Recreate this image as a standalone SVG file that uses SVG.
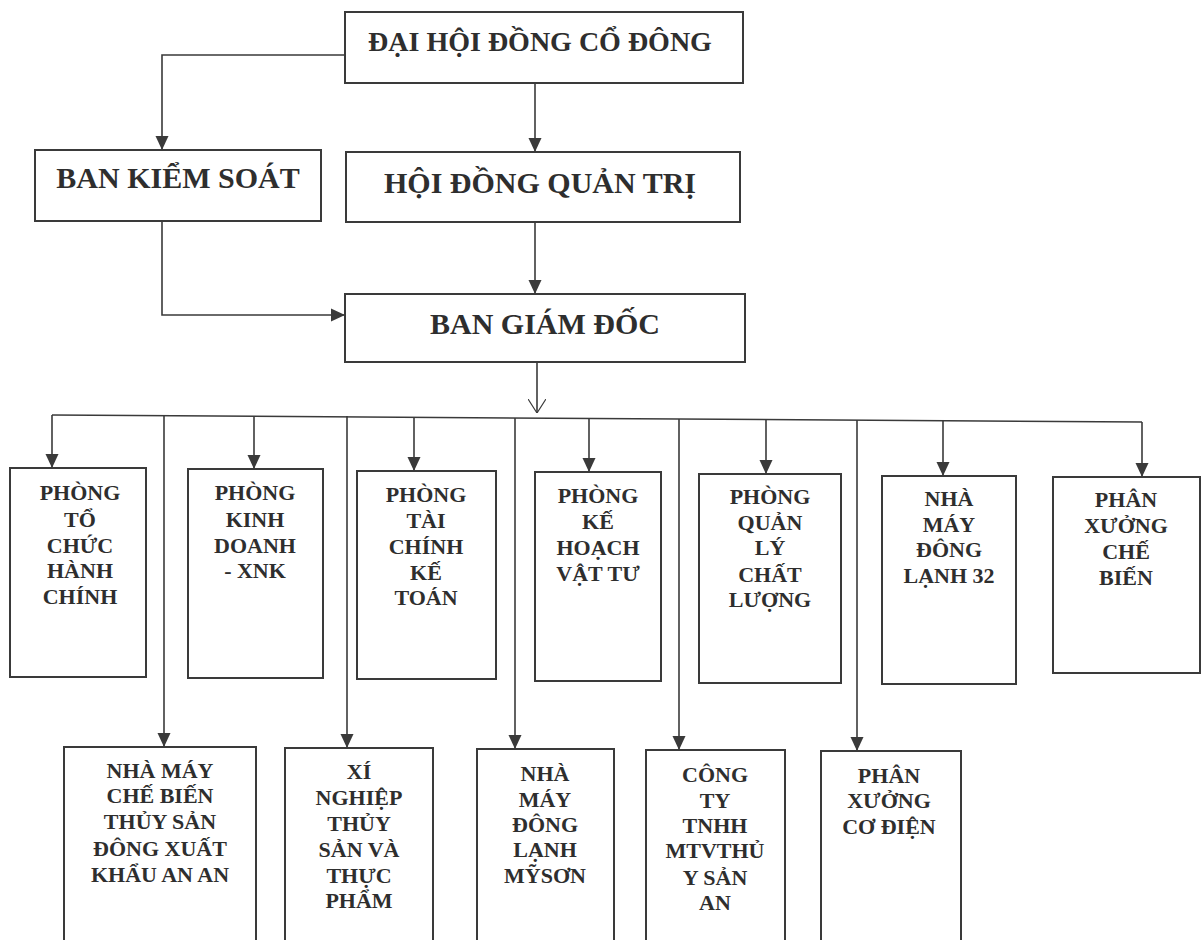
<svg xmlns="http://www.w3.org/2000/svg" width="1202" height="940" viewBox="0 0 1202 940">
<style>
.box{fill:#fff;stroke:#3a3a3a;stroke-width:2}
.ln{fill:none;stroke:#3a3a3a;stroke-width:1.6}
.t{font-family:"Liberation Serif","Times New Roman",serif;font-weight:bold;fill:#2e2e2e;text-anchor:middle}
.big{font-size:30px}
.top{font-size:28px}
.sm{font-size:22px}
</style>
<defs>
<marker id="ah" viewBox="0 0 14 14" refX="14" refY="7" markerWidth="14" markerHeight="14" markerUnits="userSpaceOnUse" orient="auto">
<path d="M0,0.5 L14,7 L0,13.5 z" fill="#3a3a3a"/>
</marker>
<marker id="av" viewBox="0 0 14 18" refX="14" refY="9" markerWidth="14" markerHeight="18" markerUnits="userSpaceOnUse" orient="auto">
<path d="M0,0 L14,9 L0,18" fill="none" stroke="#3a3a3a" stroke-width="1.2"/>
</marker>
</defs>
<rect width="1202" height="940" fill="#fff"/>
<g id="connectors">
<path class="ln" d="M345,55 H162 V150" marker-end="url(#ah)"/>
<path class="ln" d="M535,83 V152" marker-end="url(#ah)"/>
<path class="ln" d="M535,222 V294" marker-end="url(#ah)"/>
<path class="ln" d="M162,221 V315 H345" marker-end="url(#ah)"/>
<path class="ln" d="M537,362 V413" marker-end="url(#av)"/>
<path class="ln" d="M52,415 L1142,422"/>
<path class="ln" d="M52,415 V468" marker-end="url(#ah)"/>
<path class="ln" d="M254,416 V469" marker-end="url(#ah)"/>
<path class="ln" d="M414,417 V471" marker-end="url(#ah)"/>
<path class="ln" d="M589,418 V472" marker-end="url(#ah)"/>
<path class="ln" d="M766,419 V474" marker-end="url(#ah)"/>
<path class="ln" d="M943,420 V476" marker-end="url(#ah)"/>
<path class="ln" d="M1142,422 V477" marker-end="url(#ah)"/>
<path class="ln" d="M164,416 V747" marker-end="url(#ah)"/>
<path class="ln" d="M347,416 V748" marker-end="url(#ah)"/>
<path class="ln" d="M515,418 V749" marker-end="url(#ah)"/>
<path class="ln" d="M679,419 V750" marker-end="url(#ah)"/>
<path class="ln" d="M857,420 V751" marker-end="url(#ah)"/>
</g>
<g id="dhdcd">
<rect class="box" x="345" y="12" width="398" height="71"/>
<text class="t top" x="540" y="51">ĐẠI HỘI ĐỒNG CỔ ĐÔNG</text>
</g>
<g id="bks">
<rect class="box" x="35" y="150" width="286" height="71"/>
<text class="t big" x="178" y="188">BAN KIỂM SOÁT</text>
</g>
<g id="hdqt">
<rect class="box" x="346" y="152" width="394" height="70"/>
<text class="t big" x="540" y="193">HỘI ĐỒNG QUẢN TRỊ</text>
</g>
<g id="bgd">
<rect class="box" x="345" y="294" width="400" height="68"/>
<text class="t big" x="545" y="334">BAN GIÁM ĐỐC</text>
</g>
<g id="p-tchc">
<rect class="box" x="10" y="468" width="136" height="209"/>
<text class="t sm" x="80" y="500">PHÒNG<tspan x="80" y="527">TỔ</tspan><tspan x="80" y="553">CHỨC</tspan><tspan x="80" y="578">HÀNH</tspan><tspan x="80" y="604">CHÍNH</tspan></text>
</g>
<g id="p-kd">
<rect class="box" x="188" y="469" width="135" height="209"/>
<text class="t sm" x="255" y="500">PHÒNG<tspan x="255" y="527">KINH</tspan><tspan x="255" y="553">DOANH</tspan><tspan x="255" y="578">- XNK</tspan></text>
</g>
<g id="p-tckt">
<rect class="box" x="357" y="471" width="139" height="208"/>
<text class="t sm" x="426" y="502">PHÒNG<tspan x="426" y="528">TÀI</tspan><tspan x="426" y="554">CHÍNH</tspan><tspan x="426" y="580">KẾ</tspan><tspan x="426" y="605">TOÁN</tspan></text>
</g>
<g id="p-khvt">
<rect class="box" x="535" y="472" width="126" height="209"/>
<text class="t sm" x="598" y="503">PHÒNG<tspan x="598" y="529">KẾ</tspan><tspan x="598" y="555">HOẠCH</tspan><tspan x="598" y="581">VẬT TƯ</tspan></text>
</g>
<g id="p-qlcl">
<rect class="box" x="699" y="474" width="142" height="209"/>
<text class="t sm" x="770" y="504">PHÒNG<tspan x="770" y="530">QUẢN</tspan><tspan x="770" y="555">LÝ</tspan><tspan x="770" y="582">CHẤT</tspan><tspan x="770" y="607">LƯỢNG</tspan></text>
</g>
<g id="nm-dl32">
<rect class="box" x="882" y="476" width="134" height="208"/>
<text class="t sm" x="949" y="506">NHÀ<tspan x="949" y="532">MÁY</tspan><tspan x="949" y="557">ĐÔNG</tspan><tspan x="949" y="583">LẠNH 32</tspan></text>
</g>
<g id="px-cb">
<rect class="box" x="1053" y="477" width="147" height="196"/>
<text class="t sm" x="1126" y="507">PHÂN<tspan x="1126" y="533">XƯỞNG</tspan><tspan x="1126" y="559">CHẾ</tspan><tspan x="1126" y="585">BIẾN</tspan></text>
</g>
<g id="nm-cbts">
<rect class="box" x="64" y="747" width="192" height="210"/>
<text class="t sm" x="160" y="778">NHÀ MÁY<tspan x="160" y="803">CHẾ BIẾN</tspan><tspan x="160" y="829">THỦY SẢN</tspan><tspan x="160" y="856">ĐÔNG XUẤT</tspan><tspan x="160" y="882">KHẨU AN AN</tspan></text>
</g>
<g id="xn-ts">
<rect class="box" x="285" y="748" width="148" height="210"/>
<text class="t sm" x="359" y="779">XÍ<tspan x="359" y="805">NGHIỆP</tspan><tspan x="359" y="831">THỦY</tspan><tspan x="359" y="857">SẢN VÀ</tspan><tspan x="359" y="883">THỰC</tspan><tspan x="359" y="908">PHẨM</tspan></text>
</g>
<g id="nm-dlms">
<rect class="box" x="477" y="749" width="137" height="210"/>
<text class="t sm" x="545" y="781">NHÀ<tspan x="545" y="807">MÁY</tspan><tspan x="545" y="832">ĐÔNG</tspan><tspan x="545" y="857">LẠNH</tspan><tspan x="545" y="883">MỸSƠN</tspan></text>
</g>
<g id="cty-an">
<rect class="box" x="646" y="750" width="139" height="210"/>
<text class="t sm" x="715" y="782">CÔNG<tspan x="715" y="808">TY</tspan><tspan x="715" y="833">TNHH</tspan><tspan x="715" y="858">MTVTHỦ</tspan><tspan x="715" y="885">Y SẢN</tspan><tspan x="715" y="910">AN</tspan></text>
</g>
<g id="px-cd">
<rect class="box" x="821" y="751" width="140" height="210"/>
<text class="t sm" x="889" y="783">PHÂN<tspan x="889" y="808">XƯỞNG</tspan><tspan x="889" y="834">CƠ ĐIỆN</tspan></text>
</g>
</svg>
